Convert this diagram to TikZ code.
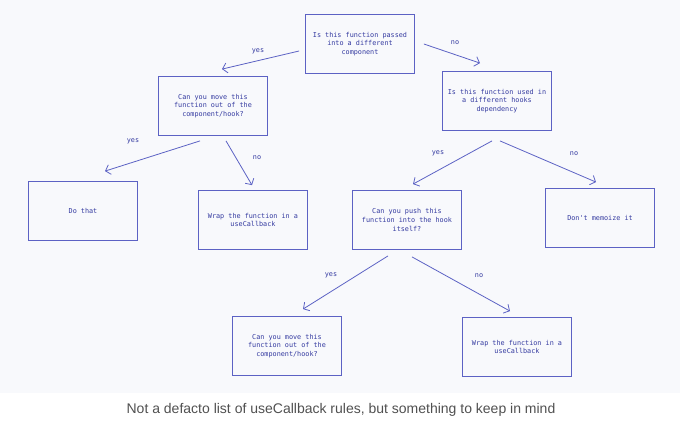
\documentclass[tikz,border=0pt]{standalone}
\usepackage{fontspec}
\setmainfont{Liberation Sans}
\newfontfamily\sketchmono{DejaVu Sans Mono}
\usetikzlibrary{arrows.meta}

\definecolor{panelbg}{RGB}{248,249,252}
\definecolor{sketchline}{RGB}{92,98,196}
\definecolor{sketchtext}{RGB}{52,58,160}
\definecolor{captiongray}{RGB}{80,80,80}

\tikzset{
  qbox/.style={draw=sketchline, line width=0.8pt, align=center,
    minimum width=109pt, minimum height=59pt, inner sep=2pt,
    text=sketchtext, font=\sketchmono\fontsize{6.8}{8.6}\selectfont},
  answer/.style={text=sketchtext, font=\sketchmono\fontsize{6.8}{8.6}\selectfont},
  flow/.style={draw=sketchline, line width=0.8pt,
    -{Straight Barb[length=4.5pt,width=10pt]}}
}

\begin{document}
\begin{tikzpicture}[x=1pt,y=-1pt]
\useasboundingbox (0,0) rectangle (680,424);
\fill[panelbg] (0,0) rectangle (680,393);

\node[qbox] (passed) at (360,44) {Is this function passed\\into a different\\component};
\node[qbox] (moveout) at (213,106) {Can you move this\\function out of the\\component/hook?};
\node[qbox] (usedin) at (497,101) {Is this function used in\\a different hooks\\dependency};

\node[qbox] (dothat) at (83,211) {Do that};
\node[qbox] (wrapone) at (253,220) {Wrap the function in a\\useCallback};
\node[qbox] (push) at (407,220) {Can you push this\\function into the hook\\itself?};
\node[qbox] (nomemo) at (600,218) {Don't memoize it};

\node[qbox] (movetwo) at (287,346) {Can you move this\\function out of the\\component/hook?};
\node[qbox] (wraptwo) at (517,347) {Wrap the function in a\\useCallback};

\draw[flow] ([shift={(-6,7)}]passed.west) -- ([shift={(9,-7)}]moveout.north);
\draw[flow] ([shift={(9,0)}]passed.east) -- ([shift={(-17,-8)}]usedin.north);
\draw[flow] ([shift={(-13,5)}]moveout.south) -- ([shift={(22,-10)}]dothat.north);
\draw[flow] ([shift={(13,5)}]moveout.south) -- ([shift={(-1,-5)}]wrapone.north);
\draw[flow] ([shift={(-5,10)}]usedin.south) -- ([shift={(6,-6)}]push.north);
\draw[flow] ([shift={(3,10)}]usedin.south) -- ([shift={(-4,-6)}]nomemo.north);
\draw[flow] ([shift={(-19,6)}]push.south) -- ([shift={(16,-7)}]movetwo.north);
\draw[flow] ([shift={(5,7)}]push.south) -- ([shift={(-7,-6)}]wraptwo.north);

\node[answer] (yesa) at (258,51) {yes};
\node[answer] (noa) at (455,43) {no};
\node[answer] (yesb) at (133,141) {yes};
\node[answer] (nob) at (257,158) {no};
\node[answer] (yesc) at (438,153) {yes};
\node[answer] (noc) at (574,154) {no};
\node[answer] (yesd) at (331,275) {yes};
\node[answer] (nod) at (479,276) {no};

\node[text=captiongray, font=\fontsize{14}{17}\selectfont] (caption) at (341,410)
  {Not a defacto list of useCallback rules, but something to keep in mind};
\end{tikzpicture}
\end{document}
